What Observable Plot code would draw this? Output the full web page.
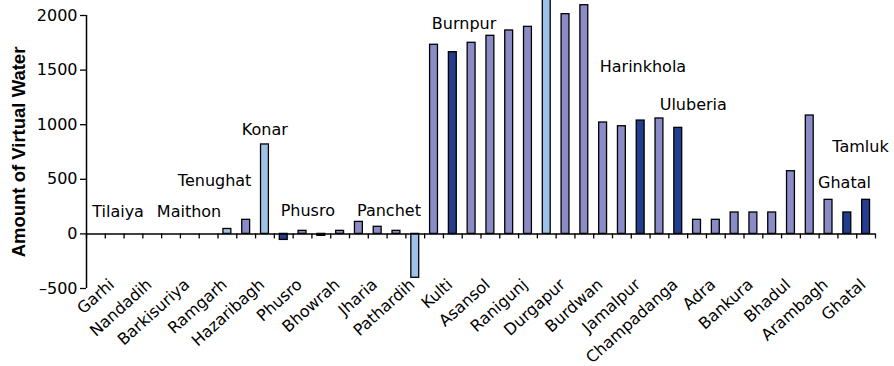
<!DOCTYPE html>
<html>
<head>
<meta charset="utf-8">
<script src="https://cdn.jsdelivr.net/npm/d3@7"></script>
<script src="https://cdn.jsdelivr.net/npm/@observablehq/plot@0.6"></script>
<style>
  body { margin: 0; background: #fff; }
</style>
</head>
<body>
<div id="chart"></div>
<script>
// Category tick labels (shown on every other category, odd slots)
const stations = ["Garhi", "Nandadih", "Barkisuriya", "Ramgarh", "Hazaribagh", "Phusro", "Bhowrah",
  "Jharia", "Pathardih", "Kulti", "Asansol", "Ranigunj", "Durgapur", "Burdwan", "Jamalpur",
  "Champadanga", "Adra", "Bankura", "Bhadul", "Arambagh", "Ghatal"];

// Amount of virtual water, one value per category slot (42 slots)
const values = [null, null, null, null, null, null, null,
  45, 129, 819, -55, 28, -18, 28, 110, 65, 28, -402,
  1732, 1664, 1750, 1814, 1863, 1896, 2200, 2012, 2094,
  1020, 986, 1038, 1057, 971,
  129, 129, 196, 196, 196, 574, 1084, 312, 196, 312];

// Bar colour group per slot
const groups = ["", "", "", "", "", "", "",
  "light", "mid", "light", "dark", "mid", "dark", "mid", "mid", "mid", "mid", "light",
  "mid", "dark", "mid", "mid", "mid", "mid", "light", "mid", "mid",
  "mid", "mid", "dark", "mid", "dark",
  "mid", "mid", "mid", "mid", "mid", "mid", "mid", "mid", "dark", "dark"];

const yTicks = [-500, 0, 500, 1000, 1500, 2000];

// Dam / place annotations (category slot position, value level of baseline)
const annotNames = ["Tilaiya", "Maithon", "Tenughat", "Konar", "Phusro", "Panchet",
  "Burnpur", "Harinkhola", "Uluberia", "Tamluk", "Ghatal"];
const annotSlot = [1.68, 5.46, 6.82, 9.49, 11.78, 16.1, 20.1, 29.62, 32.3, 41.2, 40.35];
const annotLevel = [155, 155, 443, 910, 168, 168, 1878, 1487, 1136, 748, 422];

const palette = {light: "#9CC3E7", mid: "#8B8BC8", dark: "#233E8E"};
const barW = 0.42;

const bars = values.map((v, i) => ({slot: i, v, g: groups[i]})).filter(d => d.v != null);
const annots = annotNames.map((n, i) => ({n, x: annotSlot[i], y: annotLevel[i]}));
const labelRows = stations.map((s, i) => ({s, slot: 2 * i + 1}));

const chart = Plot.plot({
  width: 894,
  height: 366,
  marginLeft: 86,
  marginRight: 19,
  marginTop: 15,
  marginBottom: 78,
  style: {fontFamily: "'DejaVu Sans', sans-serif", fontSize: "16px", background: "white", color: "black"},
  x: {domain: [0, 42], axis: null},
  y: {domain: [-500, 2000], axis: null},
  marks: [
    Plot.rect(bars, {
      x1: d => d.slot + 0.5 - barW / 2,
      x2: d => d.slot + 0.5 + barW / 2,
      y1: 0,
      y2: d => d.v,
      fill: d => palette[d.g],
      stroke: "black",
      strokeWidth: 1.3
    }),
    Plot.ruleY([0], {stroke: "black", strokeWidth: 1.5}),
    Plot.ruleX(d3.range(43), {x: d => d, y1: 0, y2: 0, insetBottom: -5, stroke: "black", strokeWidth: 1.3}),
    Plot.ruleX([0], {stroke: "black", strokeWidth: 1.5}),
    Plot.axisY({
      ticks: yTicks,
      label: null,
      tickSize: 6,
      tickPadding: 3,
      strokeWidth: 1.3,
      fontSize: 16,
      tickFormat: d => d < 0 ? "\u2013" + Math.abs(d) : String(d)
    }),
    Plot.text(labelRows, {
      x: d => d.slot + 0.5,
      y: -500,
      text: d => d.s,
      rotate: -42,
      textAnchor: "end",
      lineAnchor: "top",
      dx: -7,
      dy: -11,
      fontSize: 16
    }),
    Plot.text(annots, {
      x: "x",
      y: "y",
      text: "n",
      lineAnchor: "bottom",
      fontSize: 16
    }),
    Plot.text(["Amount of Virtual Water"], {
      frameAnchor: "left",
      text: d => d,
      rotate: -90,
      textAnchor: "middle",
      lineAnchor: "middle",
      dx: -67,
      fontWeight: "bold",
      fontSize: 18.5,
      fontFamily: "'Liberation Sans', Arial, sans-serif"
    })
  ]
});
document.getElementById("chart").append(chart);
</script>
</body>
</html>
